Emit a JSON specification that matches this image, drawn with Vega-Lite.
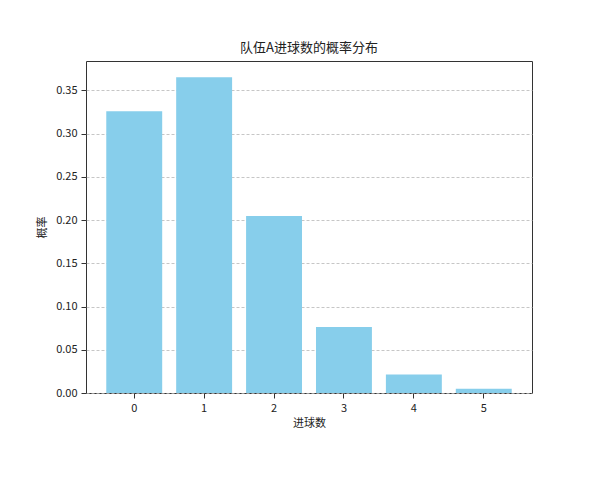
{
  "$schema": "https://vega.github.io/schema/vega-lite/v6.json",
  "autosize": "none",
  "padding": {"left": 86, "top": 61, "right": 68, "bottom": 87},
  "width": 446,
  "height": 332,
  "background": "white",
  "title": {
    "text": "队伍A进球数的概率分布",
    "font": "Noto Sans CJK SC",
    "fontSize": 13,
    "fontWeight": "normal",
    "color": "#222",
    "offset": 6
  },
  "data": {
    "values": [
      {"goals": "0", "prob": 0.326},
      {"goals": "1", "prob": 0.3653},
      {"goals": "2", "prob": 0.2046},
      {"goals": "3", "prob": 0.0764},
      {"goals": "4", "prob": 0.0214},
      {"goals": "5", "prob": 0.0048}
    ]
  },
  "mark": {"type": "bar", "color": "#87CEEB"},
  "encoding": {
    "x": {
      "field": "goals",
      "type": "ordinal",
      "title": "进球数",
      "scale": {"paddingInner": 0.2, "paddingOuter": 0.29},
      "axis": {"labelAngle": 0, "grid": false, "domain": false, "tickColor": "#333", "tickSize": 5, "labelPadding": 4, "titlePadding": 4}
    },
    "y": {
      "field": "prob",
      "type": "quantitative",
      "title": "概率",
      "scale": {"domain": [0, 0.384], "nice": false},
      "axis": {
        "values": [0, 0.05, 0.1, 0.15, 0.2, 0.25, 0.3, 0.35],
        "format": ".2f",
        "domain": false,
        "tickColor": "#333",
        "tickSize": 5,
        "labelPadding": 4,
        "titlePadding": 8,
        "gridDash": [3, 2],
        "gridColor": "#b8b8b8",
        "gridWidth": 0.8
      }
    }
  },
  "config": {
    "font": "Noto Sans CJK SC",
    "view": {"stroke": "#333", "strokeWidth": 1},
    "axis": {
      "labelFont": "Noto Sans CJK SC",
      "titleFont": "Noto Sans CJK SC",
      "labelFontSize": 11,
      "titleFontSize": 11,
      "titleFontWeight": "normal",
      "labelColor": "#222",
      "titleColor": "#222"
    }
  }
}
